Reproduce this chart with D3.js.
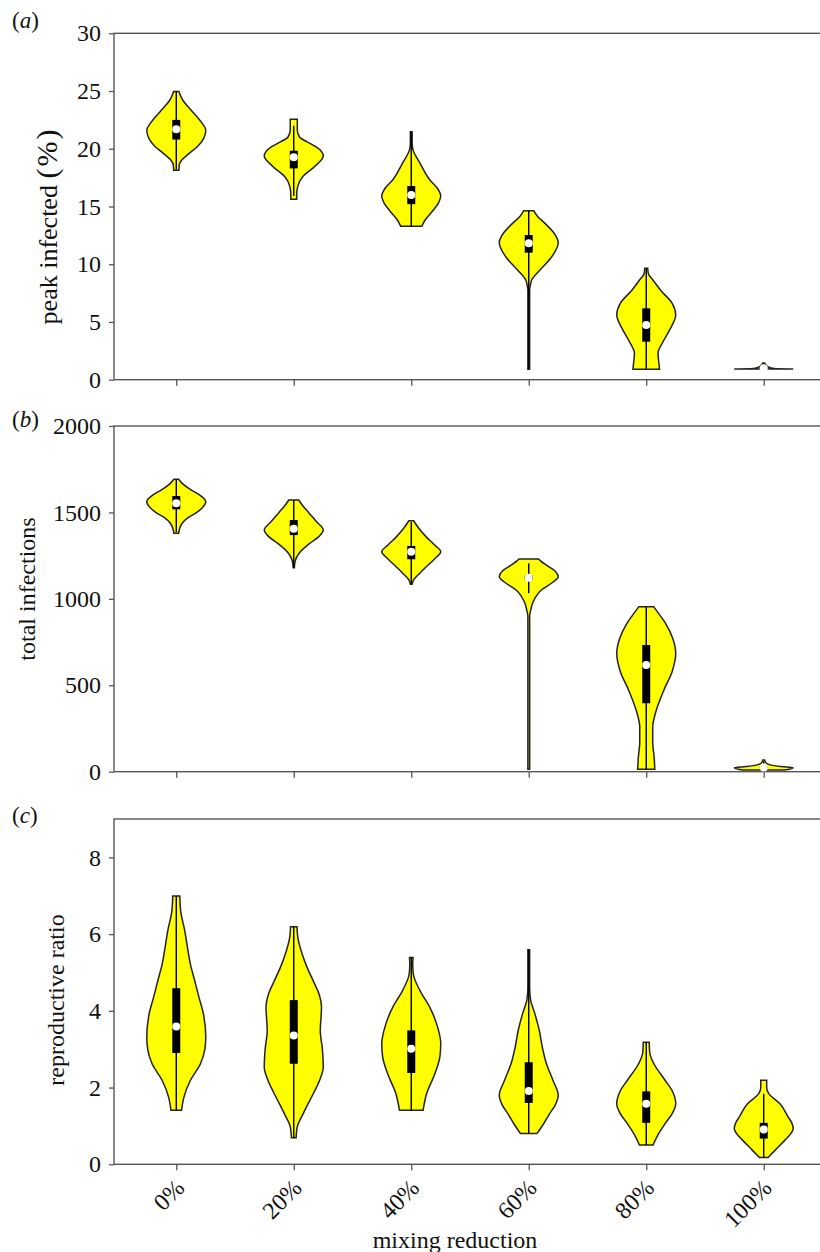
<!DOCTYPE html>
<html>
<head>
<meta charset="utf-8">
<script src="https://d3js.org/d3.v7.min.js"></script>
<style>
  body { margin: 0; background: #fff; }
</style>
</head>
<body>
<div id="chart"></div>
<script>
var categories = ["0%", "20%", "40%", "60%", "80%", "100%"];

// violin outlines: [value, relative half-width]
var peakShape = [
  [[18.15,0.09],[18.6,0.1],[19.0,0.18],[19.6,0.44],[20.2,0.72],[20.9,0.93],[21.6,1.0],[22.3,0.85],[23.36,0.5],[24.2,0.22],[24.95,0.09]],
  [[15.62,0.1],[16.0,0.1],[16.7,0.13],[17.58,0.3],[18.45,0.7],[19.37,1.0],[20.18,0.75],[20.6,0.45],[21.0,0.2],[21.6,0.12],[22.55,0.12]],
  [[13.3,0.36],[13.83,0.47],[14.7,0.75],[15.3,0.92],[15.9,1.0],[16.6,0.88],[17.3,0.63],[18.74,0.3],[19.9,0.06],[20.5,0.03],[21.48,0.03]],
  [[0.9,0.03],[7.8,0.03],[8.1,0.05],[8.63,0.1],[9.5,0.38],[10.65,0.78],[11.87,1.0],[12.68,0.86],[13.54,0.55],[14.2,0.28],[14.64,0.17]],
  [[0.9,0.45],[1.42,0.43],[2.28,0.4],[3.29,0.57],[4.3,0.79],[5.6,1.0],[6.62,0.88],[7.77,0.48],[8.63,0.23],[9.2,0.07],[9.65,0.05]],
  [[0.92,1.0],[0.96,0.35],[1.1,0.16],[1.3,0.07],[1.45,0.03]]
];
// [low whisker, q1, median, q3, high whisker]
var peakBox = [
  [18.2, 20.8, 21.7, 22.5, 25.0],
  [15.9, 18.3, 19.26, 19.83, 22.0],
  [13.3, 15.2, 16.0, 16.77, 21.5],
  [0.9, 11.0, 11.81, 12.53, 14.6],
  [0.9, 3.29, 4.74, 6.18, 9.65],
  [0.92, 0.95, 1.0, 1.05, 1.4]
];
var peakTicks = [0, 5, 10, 15, 20, 25, 30];

var totalShape = [
  [[1379,0.08],[1410,0.12],[1437,0.2],[1470,0.4],[1495,0.65],[1530,0.9],[1562,1.0],[1600,0.8],[1630,0.5],[1665,0.22],[1692,0.08]],
  [[1180,0.02],[1220,0.05],[1264,0.18],[1321,0.54],[1360,0.85],[1398,1.0],[1450,0.75],[1500,0.5],[1540,0.3],[1572,0.17]],
  [[1085,0.03],[1110,0.08],[1150,0.3],[1200,0.6],[1240,0.85],[1273,1.0],[1310,0.8],[1360,0.5],[1410,0.25],[1452,0.08]],
  [[14,0.03],[900,0.03],[930,0.06],[983,0.15],[1051,0.43],[1100,0.85],[1128,1.0],[1160,0.9],[1195,0.6],[1220,0.4],[1231,0.33]],
  [[14,0.29],[80,0.27],[170,0.22],[260,0.22],[338,0.31],[473,0.6],[580,0.88],[685,1.0],[770,0.9],[860,0.65],[920,0.4],[955,0.25]],
  [[10,0.7],[16,0.9],[23,1.0],[30,0.6],[38,0.25],[50,0.08],[68,0.03]]
];
var totalBox = [
  [1385, 1518, 1553, 1595, 1690],
  [1180, 1369, 1405, 1456, 1572],
  [1085, 1229, 1273, 1306, 1445],
  [1032, 1110, 1122, 1135, 1206],
  [14, 396, 617, 733, 955],
  [15, 22, 25, 28, 60]
];
var totalTicks = [0, 500, 1000, 1500, 2000];

var ratioShape = [
  [[1.41,0.18],[1.75,0.26],[2.19,0.48],[2.62,0.82],[3.0,0.97],[3.31,1.0],[3.92,0.92],[4.35,0.77],[4.8,0.62],[5.21,0.48],[5.65,0.38],[6.08,0.29],[6.6,0.15],[6.99,0.12]],
  [[0.69,0.08],[0.98,0.12],[1.32,0.32],[1.84,0.66],[2.2,0.88],[2.53,1.0],[3.0,0.97],[3.48,0.9],[4.09,0.94],[4.45,0.85],[4.78,0.66],[5.1,0.47],[5.47,0.29],[5.9,0.14],[6.19,0.11]],
  [[1.41,0.4],[1.84,0.52],[2.36,0.8],[2.8,0.97],[3.14,1.0],[3.66,0.86],[4.09,0.63],[4.52,0.3],[4.96,0.07],[5.2,0.05],[5.39,0.06]],
  [[0.8,0.28],[1.05,0.5],[1.32,0.71],[1.55,0.9],[1.8,1.0],[2.19,0.82],[2.62,0.6],[3.05,0.46],[3.48,0.36],[3.92,0.21],[4.3,0.06],[4.6,0.03],[5.59,0.03]],
  [[0.5,0.23],[0.8,0.42],[1.06,0.64],[1.32,0.88],[1.58,1.0],[1.93,0.87],[2.19,0.64],[2.62,0.26],[2.9,0.12],[3.18,0.1]],
  [[0.18,0.15],[0.37,0.39],[0.63,0.72],[0.8,0.92],[0.93,1.0],[1.08,0.95],[1.23,0.83],[1.58,0.55],[1.84,0.17],[2.0,0.1],[2.19,0.1]]
];
var ratioBox = [
  [1.41, 2.90, 3.59, 4.59, 6.99],
  [0.69, 2.62, 3.36, 4.28, 6.19],
  [1.41, 2.38, 3.01, 3.49, 5.39],
  [0.8, 1.60, 1.91, 2.66, 5.59],
  [0.5, 1.08, 1.58, 1.90, 3.18],
  [0.18, 0.67, 0.91, 1.08, 1.84]
];
var ratioTicks = [0, 2, 4, 6, 8];

var serif = "Liberation Serif";

var width = 820, height = 1252;
var svg = d3.select("#chart").append("svg")
  .attr("width", width)
  .attr("height", height)
  .style("font-family", serif);

var x = d3.scaleLinear().domain([-0.53, 5.53]).range([114, 826]);
var halfWidth = 29.5;

var panels = [
  { tag: "a", title: "peak infected", unit: "(%)", top: 33.3, bottom: 379.7, max: 30, ticks: peakTicks,
    shapes: peakShape, boxes: peakBox, titleX: 57, titleY: 226, titleSize: 26, tagY: 28 },
  { tag: "b", title: "total infections", unit: "", top: 426, bottom: 771.7, max: 2000, ticks: totalTicks,
    shapes: totalShape, boxes: totalBox, titleX: 35, titleY: 589, titleSize: 24, tagY: 427 },
  { tag: "c", title: "reproductive ratio", unit: "", top: 819, bottom: 1164.3, max: 9, ticks: ratioTicks,
    shapes: ratioShape, boxes: ratioBox, titleX: 64, titleY: 1000, titleSize: 24, tagY: 823 }
];

panels.forEach(function(p, k) {
  var y = d3.scaleLinear().domain([0, p.max]).range([p.bottom, p.top]);
  var g = svg.append("g");

  // frame
  g.append("rect")
    .attr("x", x.range()[0])
    .attr("y", p.top)
    .attr("width", x.range()[1] - x.range()[0])
    .attr("height", p.bottom - p.top)
    .attr("fill", "none")
    .attr("stroke", "#555")
    .attr("stroke-width", 1.4);

  var yAxis = g.append("g")
    .attr("transform", "translate(" + x.range()[0] + ",0)")
    .call(d3.axisLeft(y).tickValues(p.ticks).tickSize(5).tickPadding(8).tickSizeOuter(0)
      .tickFormat(d3.format("d")));
  yAxis.select(".domain").remove();
  yAxis.attr("font-family", serif).attr("font-size", 24);
  yAxis.selectAll("line").attr("stroke", "#555").attr("stroke-width", 1.3);
  yAxis.selectAll("text").attr("fill", "#111");

  var xAxis = g.append("g")
    .attr("transform", "translate(0," + p.bottom + ")")
    .call(d3.axisBottom(x).tickValues(d3.range(categories.length)).tickSize(6).tickSizeOuter(0)
      .tickFormat(function(i) { return k == 2 ? categories[i] : ""; }));
  xAxis.select(".domain").remove();
  xAxis.attr("font-family", serif).attr("font-size", 24);
  xAxis.selectAll("line").attr("stroke", "#555").attr("stroke-width", 1.3);
  xAxis.selectAll("text")
    .attr("fill", "#111")
    .attr("text-anchor", "end")
    .attr("dy", null)
    .attr("y", 0)
    .attr("transform", "translate(9,25) rotate(-45)");

  var area = d3.area()
    .curve(d3.curveMonotoneY)
    .y(function(d) { return y(d[0]); })
    .x0(function(d) { return -d[1] * halfWidth; })
    .x1(function(d) { return d[1] * halfWidth; });

  p.shapes.forEach(function(shape, i) {
    var v = g.append("g").attr("transform", "translate(" + x(i) + ",0)");
    var pts = shape.slice().sort(function(a, b) { return b[0] - a[0]; });
    v.append("path")
      .attr("d", area(pts))
      .attr("fill", "#ffff00")
      .attr("stroke", "#222")
      .attr("stroke-width", 1.5);

    var b = p.boxes[i];
    v.append("line")
      .attr("x1", 0).attr("x2", 0)
      .attr("y1", y(b[0])).attr("y2", y(b[4]))
      .attr("stroke", "#000")
      .attr("stroke-width", 1.4);
    v.append("rect")
      .attr("x", -4).attr("width", 8)
      .attr("y", y(b[3]))
      .attr("height", y(b[1]) - y(b[3]))
      .attr("fill", "#000");
    v.append("circle")
      .attr("cx", 0).attr("cy", y(b[2]))
      .attr("r", 4)
      .attr("fill", "#fff");
  });

  // axis title
  var title = g.append("text")
    .attr("transform", "translate(" + p.titleX + "," + p.titleY + ") rotate(-90)")
    .attr("text-anchor", "middle")
    .attr("font-family", serif)
    .attr("font-size", p.titleSize)
    .attr("fill", "#111")
    .text(p.title);
  if (p.unit) {
    title.append("tspan").text(" ");
    title.append("tspan")
      .attr("font-size", 30)
      .attr("letter-spacing", 2)
      .text(p.unit);
  }

  // panel tag
  var tag = g.append("text")
    .attr("x", 12)
    .attr("y", p.tagY)
    .attr("font-family", serif)
    .attr("font-size", 23)
    .attr("fill", "#111");
  tag.append("tspan").text("(");
  tag.append("tspan").attr("font-style", "italic").text(p.tag);
  tag.append("tspan").text(")");
});

svg.append("text")
  .attr("x", 455)
  .attr("y", 1248)
  .attr("text-anchor", "middle")
  .attr("font-family", serif)
  .attr("font-size", 24)
  .attr("fill", "#111")
  .text("mixing reduction");
</script>
</body>
</html>
